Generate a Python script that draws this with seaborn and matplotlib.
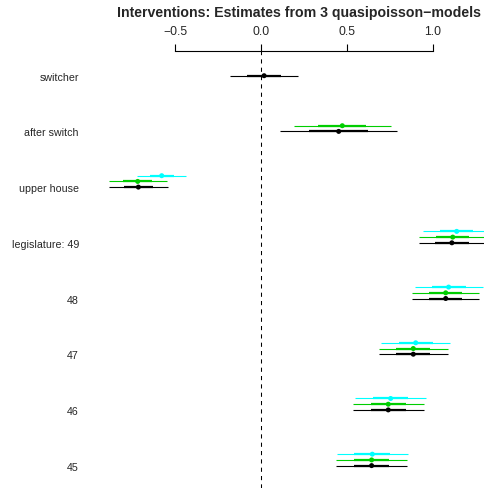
import numpy as np
import pandas as pd
import matplotlib
matplotlib.use("Agg")
import matplotlib.pyplot as plt
import seaborn as sns

# Coefficient estimates and standard errors for three quasipoisson models
terms = ["switcher", "after switch", "upper house", "legislature: 49",
         "48", "47", "46", "45"]
models = ["model 1", "model 2", "model 3"]
est_m1 = [0.018, 0.453, -0.715, 1.113, 1.077, 0.888, 0.742, 0.645]
se_m1 = [0.100, 0.171, 0.085, 0.097, 0.097, 0.100, 0.103, 0.104]
est_m2 = [np.nan, 0.474, -0.719, 1.118, 1.077, 0.888, 0.742, 0.645]
se_m2 = [np.nan, 0.141, 0.084, 0.097, 0.097, 0.100, 0.103, 0.104]
est_m3 = [np.nan, np.nan, -0.579, 1.141, 1.094, 0.902, 0.756, 0.649]
se_m3 = [np.nan, np.nan, 0.071, 0.097, 0.099, 0.100, 0.103, 0.104]
x_ticks = [-0.5, 0.0, 0.5, 1.0]

colors = {"model 1": "black", "model 2": "#00CD00", "model 3": "#00FFFF"}
offsets = {"model 1": 0.0, "model 2": -0.102, "model 3": -0.205}

rows = []
for m, est, se in zip(models, [est_m1, est_m2, est_m3], [se_m1, se_m2, se_m3]):
    for i, (t, e, s) in enumerate(zip(terms, est, se)):
        if np.isnan(e):
            continue
        rows.append({"model": m, "term": t, "pos": i + offsets[m],
                     "est": e, "se": s})
df = pd.DataFrame(rows)

sns.set_style("white")
plt.rcParams["font.family"] = ["Liberation Sans", "DejaVu Sans"]

W, H = 484, 489
fig = plt.figure(figsize=(W / 100, H / 100), dpi=100)

# axes spans from just right of the labels to the right edge of the figure
x0_px, zero_px, unit_px = 90, 261.0, 171.5
row0_px, row_step = 76.7, 55.7
top_px = 52
ax = fig.add_axes([x0_px / W, 0, 1 - x0_px / W, 1 - top_px / H])
ax.set_xlim((x0_px - zero_px) / unit_px, (W - zero_px) / unit_px)
ax.set_ylim((H - row0_px) / row_step, (top_px - row0_px) / row_step)

ax.axvline(0, color="black", lw=0.75, ls=(0, (4, 4)), zorder=1)

for m in reversed(models):
    d = df[df["model"] == m]
    c = colors[m]
    ax.hlines(d["pos"], d["est"] - 2 * d["se"], d["est"] + 2 * d["se"],
              color=c, lw=0.8, zorder=2)
    ax.hlines(d["pos"], d["est"] - d["se"], d["est"] + d["se"],
              color=c, lw=1.6, zorder=3)

sns.scatterplot(data=df, x="est", y="pos", hue="model", palette=colors,
                s=13, linewidth=0, legend=False, ax=ax, zorder=4)

ax.set_xlabel("")
ax.set_ylabel("")
ax.set_yticks(range(len(terms)))
ax.set_yticklabels(terms, fontsize=7.7)
ax.tick_params(axis="y", length=0, pad=8)

ax.xaxis.tick_top()
ax.set_xticks(x_ticks)
ax.set_xticklabels([f"{v:.1f}".replace("-", "\u2212") for v in x_ticks],
                   fontsize=8.7)
ax.tick_params(axis="x", direction="out", length=5, width=0.8, pad=5,
               color="black")
for side in ["left", "right", "bottom"]:
    ax.spines[side].set_visible(False)
ax.spines["top"].set_bounds(x_ticks[0], x_ticks[-1])
ax.spines["top"].set_linewidth(0.8)
ax.spines["top"].set_color("black")

fig.text(1 - 3 / W, 1 - 6 / H, "Interventions: Estimates from 3 quasipoisson\u2212models",
         ha="right", va="top", fontsize=10.2, fontweight="bold")

fig.savefig("out.png", dpi=100)
